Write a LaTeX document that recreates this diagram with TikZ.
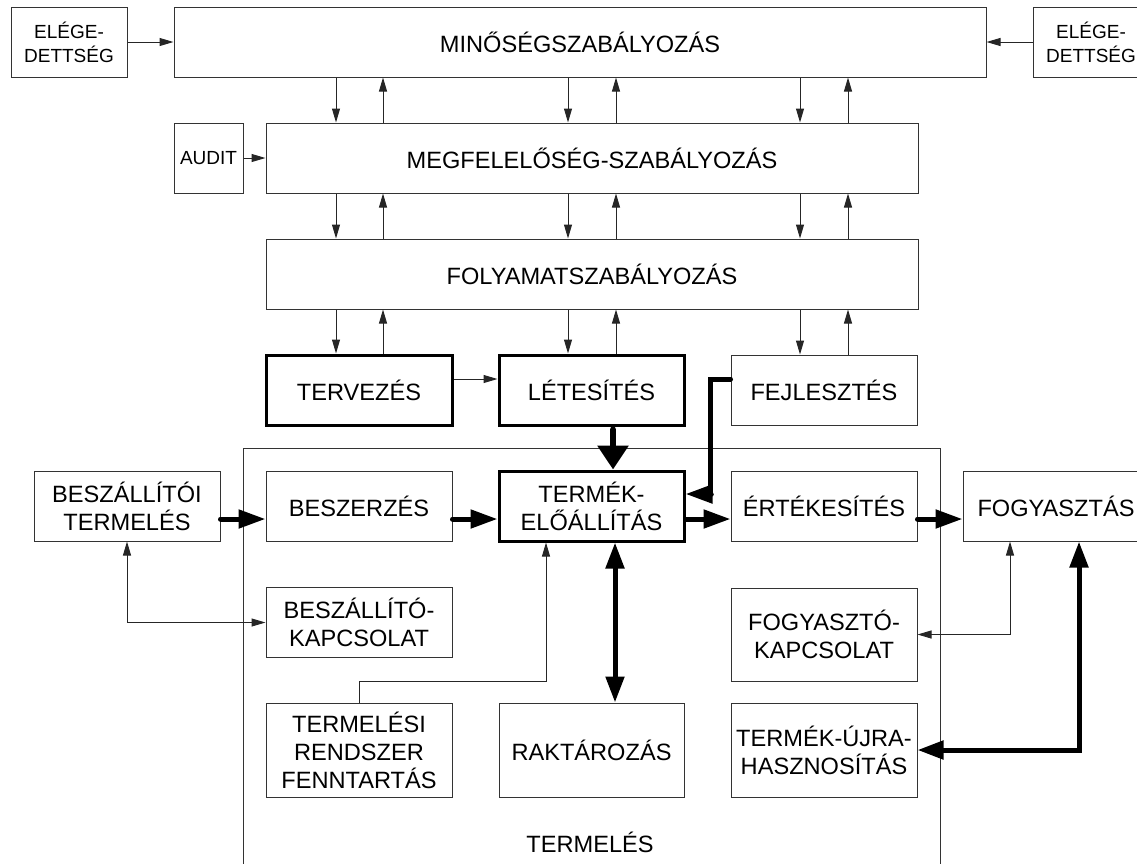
\documentclass[tikz,border=0pt]{standalone}
\usepackage{fontspec}
\setmainfont{Liberation Sans}
\usetikzlibrary{calc}
\usetikzlibrary{shapes,arrows.meta}

\begin{document}
\begin{tikzpicture}[x=1pt, y=-1pt]


 \tikzset{
    box/.style={
      rectangle,
      draw=black!80,
      line width=1pt,
      minimum width=186pt,
      minimum height=70pt,
      inner sep=0pt,
      align=center,
      font=\fontsize{23.6}{28}\selectfont
    },
    boldbox/.style={box, draw=black, line width=3pt},
    smallbox/.style={box, minimum width=116pt, font=\fontsize{19}{24}\selectfont},
    thinarr/.style={draw=black!85, line width=1pt, -{Triangle[length=14pt,width=8pt]}},
    thinboth/.style={draw=black!85, line width=1pt, {Triangle[length=14pt,width=8pt]}-{Triangle[length=14pt,width=8pt]}},
    thickarr/.style={draw=black, line width=5pt, line cap=round, -{Triangle[length=27pt,width=18pt]}},
    thickboth/.style={draw=black, line width=5pt, {Triangle[length=26pt,width=18pt]}-{Triangle[length=26pt,width=18pt]}}
  }

\useasboundingbox (0,0) rectangle (1137,863);
\clip (0,0) rectangle (1137,863);

% upper levels
\node[smallbox] (ele1) at (69,42) {ELÉGE-\\DETTSÉG};
\node[box, minimum width=812pt] (min) at (580,42) {MINŐSÉGSZABÁLYOZÁS};
\node[smallbox] (ele2) at (1091,42) {ELÉGE-\\DETTSÉG};
\node[smallbox, minimum width=69pt] (audit) at (208.5,158) {AUDIT};
\node[box, minimum width=652pt] (meg) at (592,158) {MEGFELELŐSÉG-SZABÁLYOZÁS};
\node[box, minimum width=652pt] (foly) at (592,274) {FOLYAMATSZABÁLYOZÁS};

\node[boldbox] (terv) at (359,390) {TERVEZÉS};
\node[boldbox, minimum width=185pt] (letes) at (591.5,390) {LÉTESÍTÉS};
\node[box] (fejl) at (824,390) {FEJLESZTÉS};

% termeles
\draw[draw=black!80, line width=1pt] (243,870) |- (940,448) -- (940,870);
\node[font=\fontsize{23.6}{28}\selectfont] (termlbl) at (590,842) {TERMELÉS};

\node[box] (bt) at (127,506) {BESZÁLLÍTÓI\\TERMELÉS};
\node[box] (besz) at (359,506) {BESZERZÉS};
\node[boldbox, minimum width=185pt] (termek) at (591.5,506) {TERMÉK-\\ELŐÁLLÍTÁS};
\node[box] (ertek) at (824,506) {ÉRTÉKESÍTÉS};
\node[box] (fogy) at (1056,506) {FOGYASZTÁS};

\node[box] (bk) at (359,622.5) {BESZÁLLÍTÓ-\\KAPCSOLAT};
\node[box, minimum height=93pt] (fk) at (824,634.5) {FOGYASZTÓ-\\KAPCSOLAT};
\node[box, minimum height=94pt] (trf) at (359,750) {TERMELÉSI\\RENDSZER\\FENNTARTÁS};
\node[box, minimum width=185pt, minimum height=94pt] (rakt) at (591.5,750) {RAKTÁROZÁS};
\node[box, minimum height=94pt] (tuh) at (824,750) {TERMÉK-ÚJRA-\\HASZNOSÍTÁS};

\coordinate (xa) at (336,0);
\coordinate (xb) at (383,0);
\coordinate (xc) at (568,0);
\coordinate (xd) at (616,0);
\coordinate (xe) at (800,0);
\coordinate (xf) at (848,0);

\draw[thinarr] (ele1) -- (min);
\draw[thinarr] (ele2) -- (min);
\draw[thinarr] (audit) -- (meg);

\foreach \hi/\lo in {min/meg, meg/foly}
    \foreach \dn/\up in {xa/xb, xc/xd, xe/xf} {
            \draw[thinarr] (\hi.south -| \dn) -- (\lo.north -| \dn);
            \draw[thinarr] (\lo.north -| \up) -- (\hi.south -| \up);
        }

\foreach \dn/\up/\lo in {xa/xb/terv, xc/xd/letes, xe/xf/fejl} {
        \draw[thinarr] (foly.south -| \dn) -- (\lo.north -| \dn);
        \draw[thinarr] (\lo.north -| \up) -- (foly.south -| \up);
    }

\draw[thinarr] ([yshift=11pt]terv.east) -- ([yshift=11pt]letes.west);
\draw[thickarr, line width=6pt, -{Triangle[length=24pt,width=30pt]}] ([xshift=21.5pt,yshift=-3pt]letes.south) -- ([xshift=21.5pt]termek.north);
\draw[thickarr] ([yshift=11pt]fejl.west) -| ([xshift=25pt,yshift=12pt]termek.east) -- ([yshift=12pt]termek.east);

\foreach \a/\b in {bt/besz, besz/termek, termek/ertek, ertek/fogy}
    \draw[thickarr] ([yshift=-13pt]\a.east) -- ([yshift=-13pt]\b.west);

\draw[thickboth] ([xshift=23.5pt]termek.south) -- ([xshift=23.5pt]rakt.north);

\coordinate (tk) at (546,681);
\coordinate (fc) at (1010,0);
\coordinate (uc) at (1079,0);

\draw[thinboth] (bt.south) |- (bk.west);
\draw[thinarr] (trf.north) |- (tk) -- (tk |- termek.south);
\draw[thinboth] (fk.east) -| (fogy.south -| fc);
\draw[thickboth] (tuh.east) -| (fogy.south -| uc);

\end{tikzpicture}
\end{document}
